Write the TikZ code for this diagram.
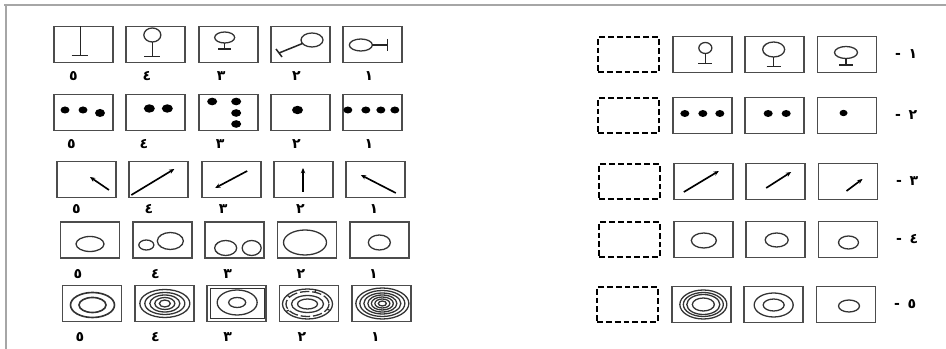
\documentclass[tikz,border=0pt]{standalone}
\usepackage{fontspec}
\newfontfamily\arabicfont[Script=Arabic]{DejaVu Sans}
\usetikzlibrary{positioning,arrows.meta,calc}

\begin{document}
\begin{tikzpicture}[x=0.03cm, y=-0.03cm,
    % styles
    figbox/.style={rectangle, draw=black!70, line width=1.5pt, minimum width=1.77cm, minimum height=1.08cm, inner sep=0pt, outer sep=0pt},
    blankbox/.style={rectangle, draw=black, line width=2pt, dash pattern=on 5pt off 2.5pt, minimum width=1.82cm, minimum height=1.05cm, inner sep=0pt, outer sep=0pt},
    glyph/.style={draw=black!80, line width=1.1pt},
    stem/.style={draw=black!85, line width=1.3pt},
    dot/.style={fill=black},
    arr/.style={-{Stealth[length=4.5pt,width=3.8pt]}, line width=1.4pt},
    num/.style={font=\arabicfont\bfseries\fontsize{12}{12}\selectfont, inner sep=0pt}
]
\useasboundingbox (0,0) rectangle (946,349);

% frame
\draw[gray!70, line width=1.8pt] (4,5) -- (946,5);
\draw[gray!70, line width=1.8pt] (6,4) -- (6,349);

% ====================
% left: row 1
% ====================
\node[figbox] (q15) at (83.5,44.5) {};
\node[figbox, right=0.4cm of q15] (q14) {};
\node[figbox, right=0.4cm of q14] (q13) {};
\node[figbox, right=0.4cm of q13] (q12) {};
\node[figbox, right=0.4cm of q12] (q11) {};

\begin{scope}[shift={(q15.center)}]
  \draw[stem] (-3,-18) -- (-3,11) (-12,11) -- (4,11);
\end{scope}
\begin{scope}[shift={(q14.center)}]
  \draw[glyph] (-3.5,-9.5) ellipse [x radius=8.5, y radius=7];
  \draw[stem] (-3.5,-2.5) -- (-3.5,12) (-11.5,12) -- (4.5,12);
\end{scope}
\begin{scope}[shift={(q13.center)}]
  \draw[glyph] (-3.5,-7) ellipse [x radius=10, y radius=5.5];
  \draw[stem] (-3.5,-1.5) -- (-3.5,4.5) (-10,4.5) -- (3,4.5);
\end{scope}
\begin{scope}[shift={(q12.center)}]
  \draw[glyph] (11.5,-4.5) ellipse [x radius=11, y radius=7];
  \draw[stem] (2,-1) -- (-21.5,8.5) (-24.5,4.5) -- (-18.5,12.5);
\end{scope}
\begin{scope}[shift={(q11.center)}]
  \draw[glyph] (-12,0.5) ellipse [x radius=11.5, y radius=6];
  \draw[stem] (-0.5,0.5) -- (14.5,0.5) (14.5,-5.5) -- (14.5,6.5);
\end{scope}

\node[num, anchor=base] (t15) at ($(q15.south)+(-10,18)$) {٥};
\node[num, anchor=base] (t14) at ($(q14.south)+(-9,18)$) {٤};
\node[num, anchor=base] (t13) at ($(q13.south)+(-7,18)$) {٣};
\node[num, anchor=base] (t12) at ($(q12.south)+(-4,18)$) {٢};
\node[num, anchor=base] (t11) at ($(q11.south)+(-4,18)$) {١};

% ====================
% left: row 2
% ====================
\node[figbox] (q25) at (83.5,112.5) {};
\node[figbox, right=0.4cm of q25] (q24) {};
\node[figbox, right=0.4cm of q24] (q23) {};
\node[figbox, right=0.4cm of q23] (q22) {};
\node[figbox, right=0.4cm of q22] (q21) {};

\begin{scope}[shift={(q25.center)}]
  \fill[dot] (-18.5,-2.5) ellipse [x radius=4.5, y radius=3.5];
  \fill[dot] (-0.5,-2.5) ellipse [x radius=4.5, y radius=3.5];
  \fill[dot] (16.5,0.5) ellipse [x radius=5, y radius=4];
\end{scope}
\begin{scope}[shift={(q24.center)}]
  \fill[dot] (-6.5,-4) ellipse [x radius=5.5, y radius=4.2];
  \fill[dot] (11.5,-4) ellipse [x radius=5.5, y radius=4.2];
\end{scope}
\begin{scope}[shift={(q23.center)}]
  \fill[dot] (-16,-11) ellipse [x radius=5, y radius=3.8];
  \fill[dot] (8,-11) ellipse [x radius=5, y radius=3.8];
  \fill[dot] (8,0.5) ellipse [x radius=5, y radius=3.8];
  \fill[dot] (8,11.5) ellipse [x radius=5, y radius=3.8];
\end{scope}
\begin{scope}[shift={(q22.center)}]
  \fill[dot] (-3,-2.5) ellipse [x radius=5.5, y radius=4.2];
\end{scope}
\begin{scope}[shift={(q21.center)}]
  \fill[dot] (-25,-2.5) ellipse [x radius=4.5, y radius=3.5];
  \fill[dot] (-7,-2.5) ellipse [x radius=4.5, y radius=3.5];
  \fill[dot] (8,-2.5) ellipse [x radius=4.5, y radius=3.5];
  \fill[dot] (22,-2.5) ellipse [x radius=4.5, y radius=3.5];
\end{scope}

\node[num, anchor=base] (t25) at ($(q25.south)+(-12,18)$) {٥};
\node[num, anchor=base] (t24) at ($(q24.south)+(-12,18)$) {٤};
\node[num, anchor=base] (t23) at ($(q23.south)+(-8,18)$) {٣};
\node[num, anchor=base] (t22) at ($(q22.south)+(-4,18)$) {٢};
\node[num, anchor=base] (t21) at ($(q21.south)+(-4,18)$) {١};

% ====================
% left: row 3
% ====================
\node[figbox] (q35) at (86.5,179.5) {};
\node[figbox, right=0.4cm of q35] (q34) {};
\node[figbox, right=0.4cm of q34] (q33) {};
\node[figbox, right=0.4cm of q33] (q32) {};
\node[figbox, right=0.4cm of q32] (q31) {};

\begin{scope}[shift={(q35.center)}]
  \draw[arr] (22.5,10.5) -- (3.5,-2.5);
\end{scope}
\begin{scope}[shift={(q34.center)}]
  \draw[arr] (-27.5,15.5) -- (15.5,-10.5);
\end{scope}
\begin{scope}[shift={(q33.center)}]
  \draw[arr] (16,-8.5) -- (-16,8.5);
\end{scope}
\begin{scope}[shift={(q32.center)}]
  \draw[arr] (-0.5,12.5) -- (-0.5,-11.5);
\end{scope}
\begin{scope}[shift={(q31.center)}]
  \draw[arr] (20,13.5) -- (-15,-4.5);
\end{scope}

\node[num, anchor=base] (t35) at ($(q35.south)+(-10,16)$) {٥};
\node[num, anchor=base] (t34) at ($(q34.south)+(-10,16)$) {٤};
\node[num, anchor=base] (t33) at ($(q33.south)+(-8,16)$) {٣};
\node[num, anchor=base] (t32) at ($(q32.south)+(-3,16)$) {٢};
\node[num, anchor=base] (t31) at ($(q31.south)+(-2,16)$) {١};

% ====================
% left: row 4
% ====================
\node[figbox] (q45) at (90,240) {};
\node[figbox, right=0.4cm of q45] (q44) {};
\node[figbox, right=0.4cm of q44] (q43) {};
\node[figbox, right=0.4cm of q43] (q42) {};
\node[figbox, right=0.4cm of q42] (q41) {};

\begin{scope}[shift={(q45.center)}]
  \draw[glyph] (0,4) ellipse [x radius=14, y radius=7.5];
\end{scope}
\begin{scope}[shift={(q44.center)}]
  \draw[glyph] (-16,5) ellipse [x radius=7.5, y radius=5];
  \draw[glyph] (8,1) ellipse [x radius=13, y radius=8.5];
\end{scope}
\begin{scope}[shift={(q43.center)}]
  \draw[glyph] (-9,8) ellipse [x radius=11, y radius=7.5];
  \draw[glyph] (17,8) ellipse [x radius=9.5, y radius=7.5];
\end{scope}
\begin{scope}[shift={(q42.center)}]
  \draw[glyph] (-2,2.5) ellipse [x radius=21.5, y radius=12.5];
\end{scope}
\begin{scope}[shift={(q41.center)}]
  \draw[glyph] (0,2.5) ellipse [x radius=11, y radius=7.5];
\end{scope}

\node[num, anchor=base] (t45) at ($(q45.south)+(-12,21)$) {٥};
\node[num, anchor=base] (t44) at ($(q44.south)+(-7,21)$) {٤};
\node[num, anchor=base] (t43) at ($(q43.south)+(-7,21)$) {٣};
\node[num, anchor=base] (t42) at ($(q42.south)+(-6,21)$) {٢};
\node[num, anchor=base] (t41) at ($(q41.south)+(-6,21)$) {١};

% ====================
% left: row 5
% ====================
\node[figbox] (q55) at (92,303.5) {};
\node[figbox, right=0.4cm of q55] (q54) {};
\node[figbox, right=0.4cm of q54] (q53) {};
\node[figbox, right=0.4cm of q53] (q52) {};
\node[figbox, right=0.4cm of q52] (q51) {};

\begin{scope}[shift={(q55.center)}]
  \foreach \rx/\ry in {22/12.5, 13.5/7.5}
    \draw[glyph, line width=1.4pt] (0.5,1.5) ellipse [x radius=\rx, y radius=\ry];
\end{scope}
\begin{scope}[shift={(q54.center)}]
  \foreach \rx/\ry in {25/14, 20/11, 15/8.5, 10/6, 5.5/3.5}
    \draw[glyph] (0.5,0) ellipse [x radius=\rx, y radius=\ry];
\end{scope}
\begin{scope}[shift={(q53.center)}]
  \draw[glyph] (-26.5,-15) rectangle (27.5,15);
  \draw[glyph] (0.5,-1) ellipse [x radius=20, y radius=12.5];
  \draw[glyph] (0.5,-1) ellipse [x radius=8.5, y radius=5];
\end{scope}
\begin{scope}[shift={(q52.center)}]
  \draw[glyph] (-1.5,0.5) ellipse [x radius=25, y radius=15];
  \draw[glyph, dash pattern=on 8pt off 2.5pt] (-1.5,0.5) ellipse [x radius=21.5, y radius=12.5];
  \draw[glyph] (-1.5,0.5) ellipse [x radius=16, y radius=8.5];
  \draw[glyph] (-1.5,0.5) ellipse [x radius=10, y radius=5];
  \foreach \a in {25,150,215,290}
    \draw[glyph] ($(-1.5,0.5)+(\a:21.5 and 12.5)$) -- ($(-1.5,0.5)+(\a:25 and 15)$);
\end{scope}
\begin{scope}[shift={(q51.center)}]
  \foreach \rx/\ry in {26.5/15.5, 22.5/13, 18.5/10.5, 14.5/8.5, 11/6.5, 7.5/4.5, 4/2.5}
    \draw[glyph] (1,0) ellipse [x radius=\rx, y radius=\ry];
\end{scope}

\node[num, anchor=base] (t55) at ($(q55.south)+(-12,20)$) {٥};
\node[num, anchor=base] (t54) at ($(q54.south)+(-9,20)$) {٤};
\node[num, anchor=base] (t53) at ($(q53.south)+(-9,20)$) {٣};
\node[num, anchor=base] (t52) at ($(q52.south)+(-7,20)$) {٢};
\node[num, anchor=base] (t51) at ($(q51.south)+(-6,20)$) {١};

% ====================
% right: rows 1--5
% ====================
\node[blankbox] (r1x) at (628.5,54.5) {};
\node[figbox, right=0.42cm of r1x] (r1c) {};
\node[figbox, right=0.4cm of r1c] (r1b) {};
\node[figbox, right=0.4cm of r1b] (r1a) {};
\node[num, right=0.55cm of r1a] (rl1) {-\hspace{0.55em}١};

\begin{scope}[shift={(r1c.center)}]
  \draw[glyph] (3,-6.5) ellipse [x radius=6.5, y radius=5.5];
  \draw[stem] (3,-1) -- (3,9) (-4,9) -- (10,9);
\end{scope}
\begin{scope}[shift={(r1b.center)}]
  \draw[glyph] (-1,-5) ellipse [x radius=11, y radius=7.5];
  \draw[stem] (-1,2.5) -- (-1,12) (-8,12) -- (6,12);
\end{scope}
\begin{scope}[shift={(r1a.center)}]
  \draw[glyph] (-1,-2) ellipse [x radius=11.5, y radius=6];
  \draw[stem] (-1,4) -- (-1,10.5) (-8,10.5) -- (6,10.5);
\end{scope}

\node[blankbox] (r2x) at (628.5,115.5) {};
\node[figbox, right=0.42cm of r2x] (r2c) {};
\node[figbox, right=0.4cm of r2c] (r2b) {};
\node[figbox, right=0.4cm of r2b] (r2a) {};
\node[num, right=0.55cm of r2a] (rl2) {-\hspace{0.55em}٢};

\begin{scope}[shift={(r2c.center)}]
  \fill[dot] (-17.5,-2) ellipse [x radius=4.5, y radius=3.5];
  \fill[dot] (0.5,-2) ellipse [x radius=4.5, y radius=3.5];
  \fill[dot] (17.5,-2) ellipse [x radius=4.5, y radius=3.5];
\end{scope}
\begin{scope}[shift={(r2b.center)}]
  \fill[dot] (-6.5,-2) ellipse [x radius=4.5, y radius=3.5];
  \fill[dot] (11.5,-2) ellipse [x radius=4.5, y radius=3.5];
\end{scope}
\begin{scope}[shift={(r2a.center)}]
  \fill[dot] (-3.5,-2.5) ellipse [x radius=4, y radius=3.2];
\end{scope}

\node[blankbox] (r3x) at (629.5,181.5) {};
\node[figbox, right=0.42cm of r3x] (r3c) {};
\node[figbox, right=0.4cm of r3c] (r3b) {};
\node[figbox, right=0.4cm of r3b] (r3a) {};
\node[num, right=0.55cm of r3a] (rl3) {-\hspace{0.55em}٣};

\begin{scope}[shift={(r3c.center)}]
  \draw[arr] (-19.5,10.5) -- (15.5,-10.5);
\end{scope}
\begin{scope}[shift={(r3b.center)}]
  \draw[arr] (-9.5,6.5) -- (15.5,-9.5);
\end{scope}
\begin{scope}[shift={(r3a.center)}]
  \draw[arr] (-1.5,9.5) -- (14.5,-2.5);
\end{scope}

\node[blankbox] (r4x) at (629.5,239.5) {};
\node[figbox, right=0.42cm of r4x] (r4c) {};
\node[figbox, right=0.4cm of r4c] (r4b) {};
\node[figbox, right=0.4cm of r4b] (r4a) {};
\node[num, right=0.55cm of r4a] (rl4) {-\hspace{0.55em}٤};

\begin{scope}[shift={(r4c.center)}]
  \draw[glyph] (0.5,1) ellipse [x radius=12.5, y radius=7.5];
\end{scope}
\begin{scope}[shift={(r4b.center)}]
  \draw[glyph] (1,0.5) ellipse [x radius=11.5, y radius=7];
\end{scope}
\begin{scope}[shift={(r4a.center)}]
  \draw[glyph] (0.5,3) ellipse [x radius=10, y radius=6.5];
\end{scope}

\node[blankbox] (r5x) at (627.5,304.5) {};
\node[figbox, right=0.42cm of r5x] (r5c) {};
\node[figbox, right=0.4cm of r5c] (r5b) {};
\node[figbox, right=0.4cm of r5b] (r5a) {};
\node[num, right=0.55cm of r5a] (rl5) {-\hspace{0.55em}٥};

\begin{scope}[shift={(r5c.center)}]
  \foreach \rx/\ry in {23.5/14.5, 20/12, 16.5/10, 11/6.5}
    \draw[glyph] (2,0) ellipse [x radius=\rx, y radius=\ry];
\end{scope}
\begin{scope}[shift={(r5b.center)}]
  \draw[glyph] (0,0.5) ellipse [x radius=19.5, y radius=12];
  \draw[glyph] (0,0.5) ellipse [x radius=10.5, y radius=6];
\end{scope}
\begin{scope}[shift={(r5a.center)}]
  \draw[glyph] (3,1.5) ellipse [x radius=10.5, y radius=6];
\end{scope}

\end{tikzpicture}
\end{document}
